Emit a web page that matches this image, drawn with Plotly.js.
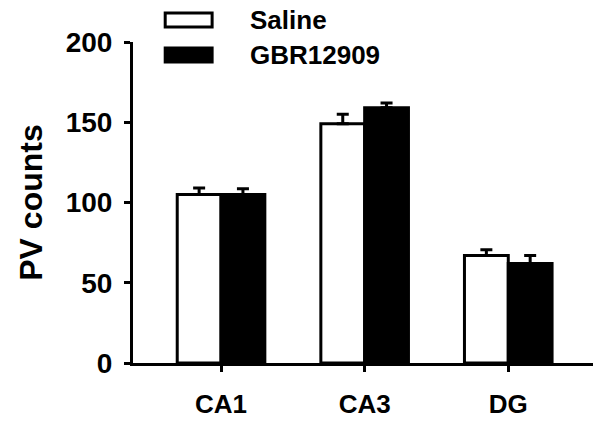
<!DOCTYPE html>
<html>
<head>
<meta charset="utf-8">
<script src="https://cdn.plot.ly/plotly-3.0.1.min.js"></script>
<style>
  html, body { margin: 0; padding: 0; background: #fff; }
  #plot { width: 604px; height: 422px; }
</style>
</head>
<body>
<div id="plot"></div>
<script>
// values
const regions = ['CA1', 'CA3', 'DG'];
const salineMean = [105, 149, 67];
const salineErr = [4, 6, 3.5];
const gbrMean = [105, 159, 62];
const gbrErr = [3.5, 3, 5];
const seriesNames = ['Saline', 'GBR12909'];
const yTicks = [0, 50, 100, 150, 200];

const font = { family: 'Arial, "Liberation Sans", sans-serif', color: '#000', weight: 'bold' };

function errBar(arr) {
  return {
    type: 'data', symmetric: false, array: arr,
    arrayminus: arr.map(() => 0),
    color: '#000', thickness: 3, width: 6
  };
}

const saline = {
  x: regions, y: salineMean, type: 'bar', name: seriesNames[0],
  marker: { color: '#fff', line: { color: '#000', width: 3 } },
  error_y: errBar(salineErr), hoverinfo: 'none'
};

const gbr = {
  x: regions, y: gbrMean, type: 'bar', name: seriesNames[1],
  marker: { color: '#000', line: { color: '#000', width: 3 } },
  error_y: errBar(gbrErr), hoverinfo: 'none'
};

const layout = {
  width: 604, height: 422,
  margin: { l: 133, r: 11, t: 42, b: 59 },
  paper_bgcolor: '#fff', plot_bgcolor: '#fff',
  showlegend: false,
  barmode: 'group', bargap: 0.39, bargroupgap: 0,
  font: font,
  xaxis: {
    type: 'category', range: [-0.613, 2.59],
    showline: true, linecolor: '#000', linewidth: 3,
    ticks: 'outside', ticklen: 6, tickwidth: 3, tickcolor: '#000',
    ticklabelstandoff: 10,
    tickfont: Object.assign({}, font, { size: 26 }),
    showgrid: false, zeroline: false, fixedrange: true
  },
  yaxis: {
    range: [0, 200], tickvals: yTicks,
    showline: true, linecolor: '#000', linewidth: 3,
    ticks: 'outside', ticklen: 6, tickwidth: 3, tickcolor: '#000',
    ticklabelstandoff: 6,
    tickfont: Object.assign({}, font, { size: 28 }),
    showgrid: false, zeroline: false, fixedrange: true,
    title: { text: 'PV counts', font: Object.assign({}, font, { size: 32 }), standoff: 14 }
  },
  shapes: [
    { type: 'rect', xref: 'paper', yref: 'paper', x0: 0.07, x1: 0.172, y0: 1.047, y1: 1.09,
      line: { color: '#000', width: 3 }, fillcolor: '#fff' },
    { type: 'rect', xref: 'paper', yref: 'paper', x0: 0.07, x1: 0.172, y0: 0.938, y1: 0.981,
      line: { color: '#000', width: 3 }, fillcolor: '#000' }
  ],
  annotations: [
    { xref: 'paper', yref: 'paper', x: 0.25, y: 1.068, xanchor: 'left', yanchor: 'middle',
      text: seriesNames[0], showarrow: false, font: Object.assign({}, font, { size: 26 }) },
    { xref: 'paper', yref: 'paper', x: 0.25, y: 0.96, xanchor: 'left', yanchor: 'middle',
      text: seriesNames[1], showarrow: false, font: Object.assign({}, font, { size: 26 }) }
  ]
};

Plotly.newPlot('plot', [saline, gbr], layout, { displayModeBar: false, staticPlot: true });
</script>
</body>
</html>
